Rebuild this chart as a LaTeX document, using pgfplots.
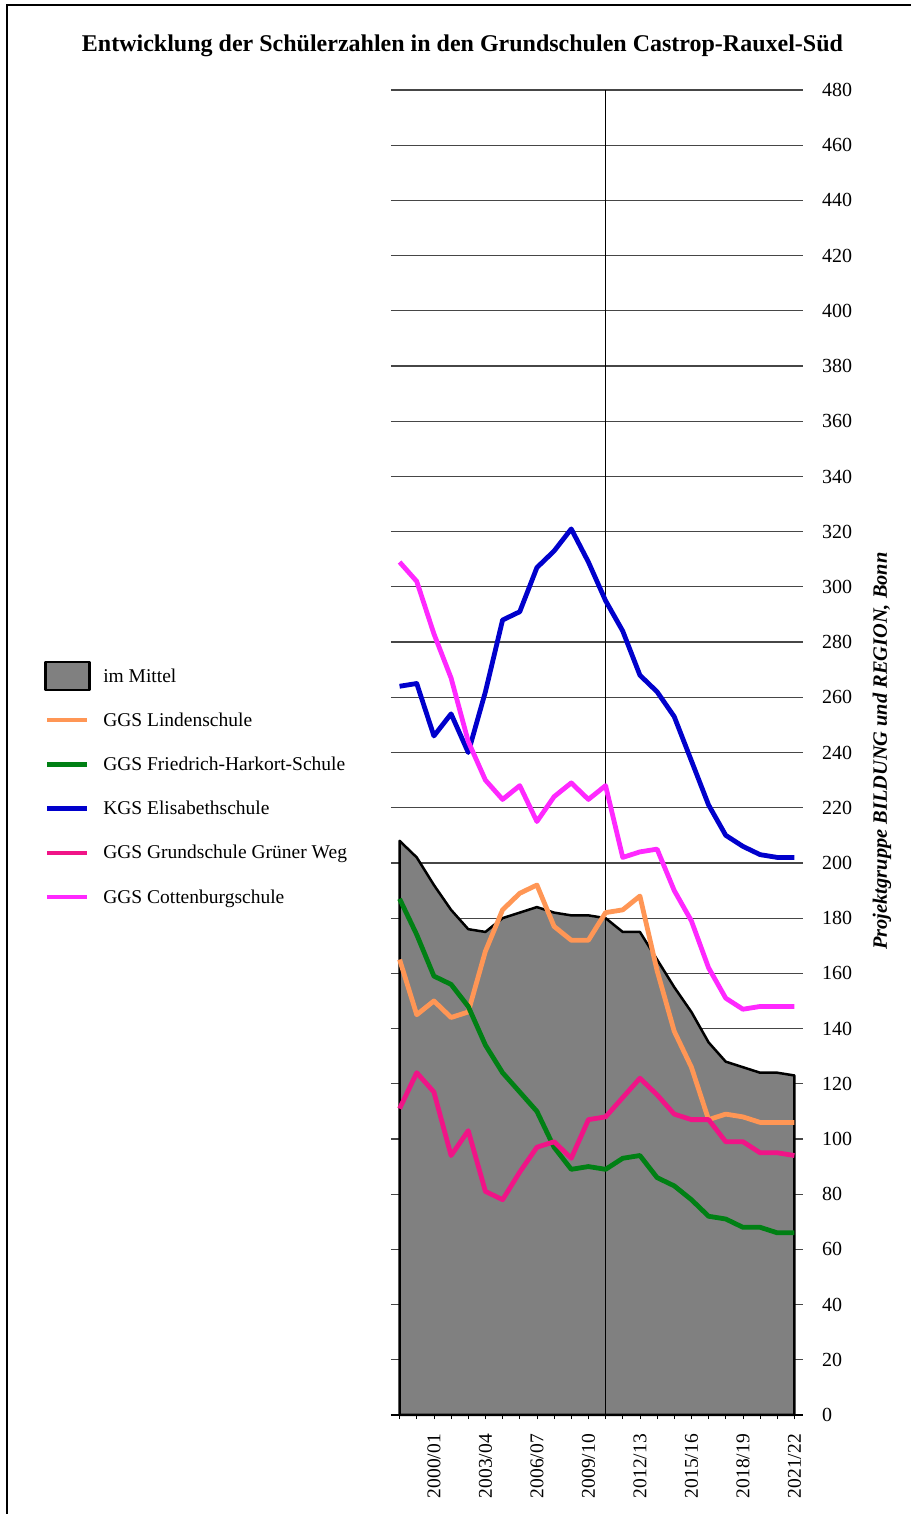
\documentclass[border=0pt]{standalone}
\usepackage{fontspec}
\setmainfont{Liberation Serif}
\usepackage{pgfplots}
\pgfplotsset{compat=1.18}
\usepackage{pgfplotstable}
\usetikzlibrary{calc}
\definecolor{cOrange}{RGB}{255,150,85}
\definecolor{cGreen}{RGB}{0,128,20}
\definecolor{cBlue}{RGB}{0,0,204}
\definecolor{cRed}{RGB}{240,20,135}
\definecolor{cMag}{RGB}{255,40,255}
\definecolor{cFill}{RGB}{128,128,128}
\definecolor{cGrid}{RGB}{70,70,70}

\pgfplotstableread{
x mittel linden fhs elis gruener cotten
0 208 165 187 264 111 309
1 202 145 174 265 124 302
2 192 150 159 246 117 283
3 183 144 156 254 94 267
4 176 146 148 240 103 244
5 175 168 134 262 81 230
6 180 183 124 288 78 223
7 182 189 117 291 88 228
8 184 192 110 307 97 215
9 182 177 97 313 99 224
10 181 172 89 321 93 229
11 181 172 90 309 107 223
12 180 182 89 295 108 228
13 175 183 93 284 115 202
14 175 188 94 268 122 204
15 165 161 86 262 116 205
16 155 139 83 253 109 190
17 146 126 78 237 107 179
18 135 107 72 221 107 162
19 128 109 71 210 99 151
20 126 108 68 206 99 147
21 124 106 68 203 95 148
22 124 106 66 202 95 148
23 123 106 66 202 94 148
}\data

\begin{document}
\begin{tikzpicture}[x=1pt,y=1pt]
\begin{axis}[
  scale only axis, width=412pt, height=1325pt,
  xmin=-0.5, xmax=23.5, ymin=0, ymax=480,
  axis line style={draw=none},
  ymajorgrids, grid style={cGrid, line width=1.2pt},
  ytick={0,20,...,480},
  ytick pos=right, yticklabel pos=right,
  ytick style={draw=none},
  yticklabel style={anchor=west, inner sep=0pt, xshift=15pt, font=\fontsize{20}{24}\selectfont},
  /pgf/number format/assume math mode=true,
  xtick={2,5,...,23},
  xticklabels={2000/01,2003/04,2006/07,2009/10,2012/13,2015/16,2018/19,2021/22},
  minor xtick={0,1,...,23},
  xtick pos=bottom, tick align=outside,
  major tick length=4pt, minor tick length=4pt,
  xtick style={black, line width=0.8pt},
  minor tick style={black, line width=0.8pt},
  xticklabel style={rotate=90, anchor=east, inner sep=0pt, font=\fontsize{19.5}{23}\selectfont},
  xticklabel shift=15pt,
  legend cell align=left,
  legend style={at={(axis description cs:-0.8422,0.5744)}, anchor=north west,
    draw=none, fill=none, inner sep=0pt, outer sep=0pt, row sep=0pt, column sep=0pt,
    nodes={inner sep=0pt, minimum height=44.2pt, font=\fontsize{19.5}{23}\selectfont}},
  legend image code/.code={\path[draw=none,fill=none] (-3pt,-20pt) rectangle (56pt,20pt); \draw[#1, line width=4.5pt] (0pt,0pt) -- (40pt,0pt);},
  clip=false,
]
\addplot[fill=cFill, draw=black, line width=2.5pt, line join=round,
  legend image code/.code={\path[draw=none,fill=none] (-3pt,-20pt) rectangle (56pt,20pt); \draw[fill=cFill, draw=black, line width=2.5pt] (-2pt,-14pt) rectangle (42pt,14pt);}]
  table[x=x,y=mittel]{\data} \closedcycle;
\addlegendentry{im Mittel}
\addplot[forget plot, black, line width=1pt] coordinates {(12,0) (12,480)};
\addplot[forget plot, black, line width=1.5pt] coordinates {(-0.5,0) (23.5,0)};
\addplot[cOrange, line width=4.8pt, line join=round] table[x=x,y=linden]{\data};
\addlegendentry{GGS Lindenschule}
\addplot[cGreen, line width=4.8pt, line join=round] table[x=x,y=fhs]{\data};
\addlegendentry{GGS Friedrich-Harkort-Schule}
\addplot[cBlue, line width=4.8pt, line join=round] table[x=x,y=elis]{\data};
\addlegendentry{KGS Elisabethschule}
\addplot[cRed, line width=4.8pt, line join=round] table[x=x,y=gruener]{\data};
\addlegendentry{GGS Grundschule Grüner Weg}
\addplot[cMag, line width=4.8pt, line join=round] table[x=x,y=cotten]{\data};
\addlegendentry{GGS Cottenburgschule}
\coordinate (O) at (rel axis cs:0,0);
\end{axis}
\pgfresetboundingbox
\useasboundingbox ($(O)+(-391,-99)$) rectangle ++(910,1514);
\draw[line width=2pt] ($(O)+(-384,-99)$) -- ++(0,1509) -- ++(905,0);
\node[font=\bfseries\fontsize{24}{28}\selectfont] at ($(O)+(71.5,1369)$) {Entwicklung der Schülerzahlen in den Grundschulen Castrop-Rauxel-Süd};
\node[rotate=90, font=\bfseries\itshape\fontsize{20.4}{24}\selectfont] at ($(O)+(491,664)$) {Projektgruppe BILDUNG und REGION, Bonn};
\end{tikzpicture}
\end{document}
